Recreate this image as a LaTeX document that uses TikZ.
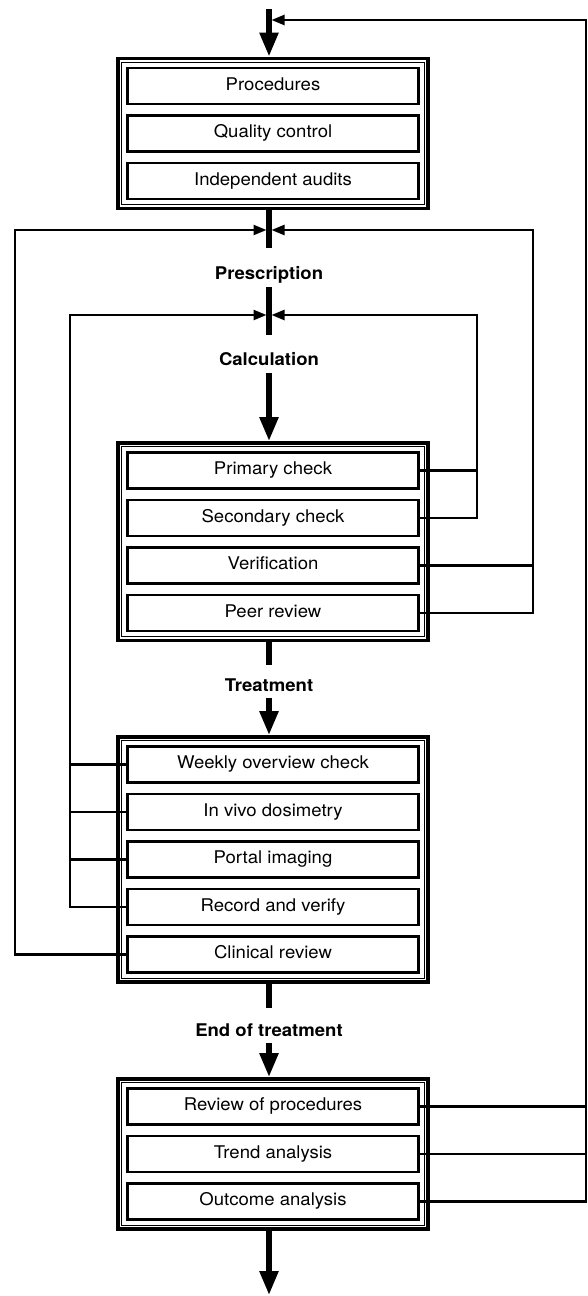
\documentclass[tikz,border=0pt]{standalone}
\usepackage{fontspec}
\setmainfont{TeX Gyre Heros}[FakeStretch=1.06]
\usepackage{tikz}
\usetikzlibrary{arrows.meta, fit}

\tikzstyle{check} = [rectangle, 
draw=black, 
line width=2.4pt, 
minimum width=291pt, 
minimum height=36pt, 
text height=12.6pt, 
text depth=3.7pt, 
inner sep=0pt, 
font=\fontsize{17.5}{21}\selectfont]
\tikzstyle{frame} = [rectangle, draw=black, line width=3.5pt, inner sep=8.5pt]
\tikzstyle{frameline} = [rectangle, draw=black, line width=1pt, inner sep=4.5pt]
\tikzstyle{stage} = [anchor=base, inner sep=0pt, font=\fontsize{17.5}{21}\selectfont\bfseries]
\tikzstyle{stem} = [line width=5.5pt]
\tikzstyle{bigarrow} = [line width=5.5pt, -{Triangle[length=24pt, width=18pt]}]
\tikzstyle{fbline} = [line width=2.4pt]
\tikzstyle{fbarrow} = [line width=2.4pt, -{Triangle[length=13pt, width=10pt]}, shorten >=2.5pt]

\begin{document}
\begin{tikzpicture} [x=1pt, y=-1pt, node distance=47.5pt]
    \useasboundingbox (0,0) rectangle (588,1296);

    % standing procedures
    \node (proc) [check] at (273,86) {Procedures};
    \node (qc) [check, below of=proc] {Quality control};
    \node (audit) [check, below of=qc] {Independent audits};
    \node (frame1) [frame, fit=(proc)(audit)] {};
    \node (frame1in) [frameline, fit=(proc)(audit)] {};

    % checks on the calculation
    \node (primary) [check] at (273,470.5) {Primary check};
    \node (secondary) [check, below of=primary] {Secondary check};
    \node (verif) [check, below of=secondary] {Verification};
    \node (peer) [check, below of=verif] {Peer review};
    \node (frame2) [frame, fit=(primary)(peer)] {};
    \node (frame2in) [frameline, fit=(primary)(peer)] {};

    % checks during treatment
    \node (weekly) [check] at (273,764.5) {Weekly overview check};
    \node (invivo) [check, below of=weekly] {In vivo dosimetry};
    \node (portal) [check, below of=invivo] {Portal imaging};
    \node (recver) [check, below of=portal] {Record and verify};
    \node (clinical) [check, below of=recver] {Clinical review};
    \node (frame3) [frame, fit=(weekly)(clinical)] {};
    \node (frame3in) [frameline, fit=(weekly)(clinical)] {};

    % after treatment
    \node (review) [check] at (273,1106.5) {Review of procedures};
    \node (trend) [check, below of=review] {Trend analysis};
    \node (outcome) [check, below of=trend] {Outcome analysis};
    \node (frame4) [frame, fit=(review)(outcome)] {};
    \node (frame4in) [frameline, fit=(review)(outcome)] {};

    % stage labels
    \node (presc) [stage] at (269,279) {Prescription};
    \node (calc) [stage] at (269,365) {Calculation};
    \node (treat) [stage] at (269,691) {Treatment};
    \node (endtreat) [stage] at (269,1036) {End of treatment};

    % main line
    \coordinate (top) at (269,9);
    \coordinate (j0) at (269,20);
    \coordinate (j1) at (269,230);
    \coordinate (j2) at (269,315);
    \draw [bigarrow] (top) -- (frame1.north -| top);
    \draw [stem] (frame1.south -| top) -- (269,248);
    \draw [stem] (269,287) -- (269,335);
    \draw [bigarrow] (269,373) -- (frame2.north -| top);
    \draw [stem] (frame2.south -| top) -- (269,665);
    \draw [bigarrow] (269,698) -- (frame3.north -| top);
    \draw [stem] (frame3.south -| top) -- (269,1008);
    \draw [bigarrow] (269,1043) -- (frame4.north -| top);
    \draw [bigarrow] (frame4.south -| top) -- (269,1295);

    % feedback loops
    \coordinate (r0) at (586,20);
    \coordinate (r1) at (533,230);
    \coordinate (r2) at (477,315);
    \coordinate (l1) at (15,230);
    \coordinate (l2) at (70,315);

    \draw [fbline] (review.east) -- (review.east -| r0);
    \draw [fbline] (trend.east) -- (trend.east -| r0);
    \draw [fbarrow] (outcome.east) -| (r0) -- (j0);

    \draw [fbline] (primary.east) -- (primary.east -| r2);
    \draw [fbarrow] (secondary.east) -| (r2) -- (j2);
    \draw [fbline] (verif.east) -- (verif.east -| r1);
    \draw [fbarrow] (peer.east) -| (r1) -- (j1);

    \draw [fbline] (weekly.west) -- (weekly.west -| l2);
    \draw [fbline] (invivo.west) -- (invivo.west -| l2);
    \draw [fbline] (portal.west) -- (portal.west -| l2);
    \draw [fbarrow] (recver.west) -| (l2) -- (j2);
    \draw [fbarrow] (clinical.west) -| (l1) -- (j1);

\end{tikzpicture}
\end{document}
